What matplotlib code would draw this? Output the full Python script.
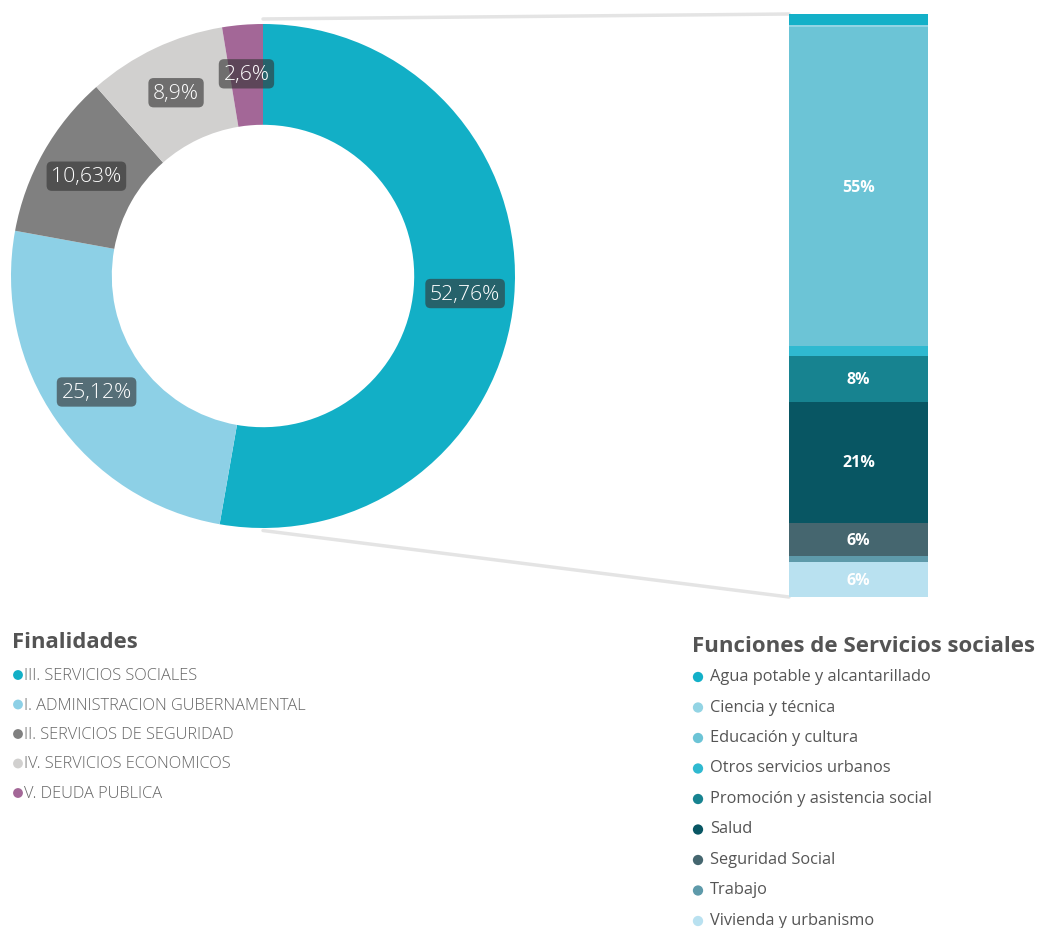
import matplotlib
matplotlib.use("Agg")
import matplotlib.pyplot as plt
from matplotlib.patches import ConnectionPatch
import numpy as np

plt.rcParams['font.family'] = ['Open Sans', 'DejaVu Sans']

# ---- data ----
finalidades = ["III. SERVICIOS SOCIALES", "I. ADMINISTRACION GUBERNAMENTAL",
               "II. SERVICIOS DE SEGURIDAD", "IV. SERVICIOS ECONOMICOS",
               "V. DEUDA PUBLICA"]
fin_values = [52.76, 25.12, 10.63, 8.9, 2.6]
fin_labels = ["52,76%", "25,12%", "10,63%", "8,9%", "2,6%"]
fin_colors = ["#12afc6", "#8dd0e6", "#808080", "#d1d0cf", "#a36797"]

funciones = ["Agua potable y alcantarillado", "Ciencia y técnica", "Educación y cultura",
             "Otros servicios urbanos", "Promoción y asistencia social", "Salud",
             "Seguridad Social", "Trabajo", "Vivienda y urbanismo"]
fun_values = [1.9, 0.3, 55.0, 1.7, 7.8, 20.9, 5.7, 1.0, 6.0]
fun_colors = ["#13b0c8", "#93d4e4", "#6cc4d6", "#2fb9d0", "#178390", "#085663",
              "#45666f", "#5e9aaa", "#b9e1f0"]

W, H = 1038, 929
fig = plt.figure(figsize=(W / 100, H / 100), dpi=100)

def px_axes(left, top, width, height):
    return fig.add_axes([left / W, (H - top - height) / H, width / W, height / H])

# ---- donut ----
ax_d = px_axes(11, 25, 504, 504)
wedges, _ = ax_d.pie(fin_values, colors=fin_colors, startangle=90, counterclock=False,
                     radius=1.0, wedgeprops=dict(width=0.40, edgecolor='none'))
ax_d.set_xlim(-1, 1)
ax_d.set_ylim(-1, 1)
ax_d.set_aspect('equal')
ax_d.axis('off')
for w, lab in zip(wedges, fin_labels):
    ang = np.deg2rad((w.theta1 + w.theta2) / 2)
    r = 0.805
    ax_d.text(r * np.cos(ang), r * np.sin(ang), lab, ha='center', va='center',
              fontsize=15.3, color='white', fontweight='light',
              bbox=dict(boxstyle='round,pad=0.22,rounding_size=0.25', fc='#333333',
                        alpha=0.62, ec='none'))

# ---- stacked bar ----
ax_b = px_axes(789, 15, 139, 583)
total = sum(fun_values)
bottom = 0
for name, v, c in zip(funciones, fun_values, fun_colors):
    ax_b.bar(0, v, bottom=bottom, width=1.0, color=c, edgecolor='none')
    if v >= 5:
        ax_b.text(0, bottom + v / 2, f"{round(v)}%", ha='center', va='center',
                  fontsize=11.5, fontweight='bold', color='white')
    bottom += v
ax_b.set_xlim(-0.5, 0.5)
ax_b.set_ylim(total, 0)
ax_b.axis('off')

# connector lines
for ya, yb in [(1.02, 0), (-1.01, total)]:
    con = ConnectionPatch(xyA=(0, ya), coordsA=ax_d.transData,
                          xyB=(-0.5, yb), coordsB=ax_b.transData,
                          color='#e4e4e4', lw=2.5, zorder=0)
    fig.add_artist(con)

# ---- legends (manual) ----
ax_l = fig.add_axes([0, 0, 1, 1], zorder=-1)
ax_l.set_xlim(0, W)
ax_l.set_ylim(H, 0)
ax_l.axis('off')

ax_l.text(12, 643, "Finalidades", fontsize=15.8, fontweight='bold', color='#545454',
          ha='left', va='center')
for i, (name, c) in enumerate(zip(finalidades, fin_colors)):
    y = 676 + i * 29.5
    ax_l.scatter(18, y, s=50, color=c, edgecolors='none')
    ax_l.text(24, y, name, fontsize=11.8, color='#656565', ha='left', va='center',
              fontweight='light')

ax_l.text(692, 647, "Funciones de Servicios sociales", fontsize=16, fontweight='bold',
          color='#545454', ha='left', va='center')
for i, (name, c) in enumerate(zip(funciones, fun_colors)):
    y = 677 + i * 30.5
    ax_l.scatter(698, y + 1, s=55, color=c, edgecolors='none')
    ax_l.text(710, y, name, fontsize=11.8, color='#555555', ha='left', va='center')

fig.savefig("out.png", dpi=100)
